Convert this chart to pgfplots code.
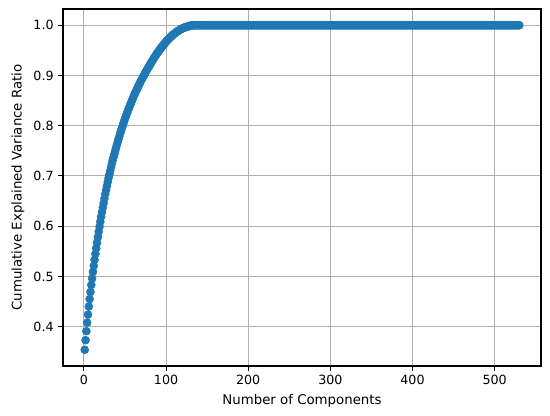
\documentclass[border=0pt]{standalone}
\usepackage{pgfplots}
\pgfplotsset{compat=1.18}
\usepackage{fontspec}
\setmainfont{DejaVu Sans}
\definecolor{mplblue}{HTML}{1F77B4}
\definecolor{mplgrid}{HTML}{B0B0B0}
\begin{document}
\begin{tikzpicture}
\begin{axis}[
  scale only axis, width=358.5pt, height=267.75pt,
  xmin=-25.45, xmax=556.45, ymin=0.3217, ymax=1.0323,
  xtick={0,100,200,300,400,500},
  ytick={0.4,0.5,0.6,0.7,0.8,0.9,1.0},
  yticklabel style={/pgf/number format/fixed, /pgf/number format/precision=1, /pgf/number format/fixed zerofill},
  /pgf/number format/assume math mode=true,
  tick label style={font=\fontsize{9.5}{11}\selectfont},
  label style={font=\fontsize{10}{12}\selectfont},
  xlabel={Number of Components},
  ylabel={Cumulative Explained Variance Ratio},
  grid=major, major grid style={mplgrid, line width=0.8pt},
  axis line style={line width=0.8pt},
  tick align=outside, xtick pos=left, ytick pos=left,
  major tick length=3.5pt, every tick/.style={black, line width=0.8pt},
  axis on top=false]
\addplot[only marks, mark=*, mark size=3pt, mark options={draw=mplblue, fill=mplblue}] coordinates {
(1,0.354)(2,0.373)(3,0.391)(4,0.408)(5,0.424)(6,0.440)(7,0.455)(8,0.469)(9,0.483)
(10,0.496)(11,0.509)(12,0.521)(13,0.533)(14,0.545)(15,0.556)(16,0.567)(17,0.578)(18,0.589)(19,0.599)
(20,0.609)(21,0.619)(22,0.628)(23,0.637)(24,0.646)(25,0.655)(26,0.664)(27,0.672)(28,0.680)(29,0.688)
(30,0.696)(31,0.703)(32,0.710)(33,0.717)(34,0.724)(35,0.731)(36,0.737)(37,0.743)(38,0.749)(39,0.755)
(40,0.761)(41,0.767)(42,0.773)(43,0.778)(44,0.784)(45,0.789)(46,0.794)(47,0.799)(48,0.804)(49,0.809)
(50,0.814)(51,0.818)(52,0.823)(53,0.827)(54,0.832)(55,0.836)(56,0.840)(57,0.844)(58,0.848)(59,0.852)
(60,0.856)(61,0.860)(62,0.864)(63,0.867)(64,0.871)(65,0.874)(66,0.878)(67,0.881)(68,0.884)(69,0.888)
(70,0.891)(71,0.894)(72,0.897)(73,0.900)(74,0.903)(75,0.906)(76,0.909)(77,0.912)(78,0.915)(79,0.917)
(80,0.920)(81,0.923)(82,0.926)(83,0.928)(84,0.931)(85,0.934)(86,0.936)(87,0.939)(88,0.941)(89,0.944)
(90,0.946)(91,0.948)(92,0.951)(93,0.953)(94,0.955)(95,0.957)(96,0.959)(97,0.961)(98,0.963)(99,0.965)
(100,0.967)(101,0.969)(102,0.971)(103,0.972)(104,0.974)(105,0.976)(106,0.977)(107,0.979)(108,0.980)(109,0.982)
(110,0.983)(111,0.984)(112,0.986)(113,0.987)(114,0.988)(115,0.989)(116,0.990)(117,0.991)(118,0.992)(119,0.993)
(120,0.994)(121,0.994)(122,0.995)(123,0.996)(124,0.996)(125,0.997)(126,0.997)(127,0.998)(128,0.998)(129,0.999)
(130,0.999)(131,0.9995)(132,0.9998)(133,1)(134,1)(135,1)(136,1)(137,1)(138,1)(139,1)
(140,1)(141,1)(142,1)(143,1)(144,1)(145,1)(146,1)(147,1)(148,1)(149,1)
(150,1)(151,1)(152,1)(153,1)(154,1)(155,1)(156,1)(157,1)(158,1)(159,1)
(160,1)(161,1)(162,1)(163,1)(164,1)(165,1)(166,1)(167,1)(168,1)(169,1)
(170,1)(171,1)(172,1)(173,1)(174,1)(175,1)(176,1)(177,1)(178,1)(179,1)
(180,1)(181,1)(182,1)(183,1)(184,1)(185,1)(186,1)(187,1)(188,1)(189,1)
(190,1)(191,1)(192,1)(193,1)(194,1)(195,1)(196,1)(197,1)(198,1)(199,1)
(200,1)(201,1)(202,1)(203,1)(204,1)(205,1)(206,1)(207,1)(208,1)(209,1)
(210,1)(211,1)(212,1)(213,1)(214,1)(215,1)(216,1)(217,1)(218,1)(219,1)
(220,1)(221,1)(222,1)(223,1)(224,1)(225,1)(226,1)(227,1)(228,1)(229,1)
(230,1)(231,1)(232,1)(233,1)(234,1)(235,1)(236,1)(237,1)(238,1)(239,1)
(240,1)(241,1)(242,1)(243,1)(244,1)(245,1)(246,1)(247,1)(248,1)(249,1)
(250,1)(251,1)(252,1)(253,1)(254,1)(255,1)(256,1)(257,1)(258,1)(259,1)
(260,1)(261,1)(262,1)(263,1)(264,1)(265,1)(266,1)(267,1)(268,1)(269,1)
(270,1)(271,1)(272,1)(273,1)(274,1)(275,1)(276,1)(277,1)(278,1)(279,1)
(280,1)(281,1)(282,1)(283,1)(284,1)(285,1)(286,1)(287,1)(288,1)(289,1)
(290,1)(291,1)(292,1)(293,1)(294,1)(295,1)(296,1)(297,1)(298,1)(299,1)
(300,1)(301,1)(302,1)(303,1)(304,1)(305,1)(306,1)(307,1)(308,1)(309,1)
(310,1)(311,1)(312,1)(313,1)(314,1)(315,1)(316,1)(317,1)(318,1)(319,1)
(320,1)(321,1)(322,1)(323,1)(324,1)(325,1)(326,1)(327,1)(328,1)(329,1)
(330,1)(331,1)(332,1)(333,1)(334,1)(335,1)(336,1)(337,1)(338,1)(339,1)
(340,1)(341,1)(342,1)(343,1)(344,1)(345,1)(346,1)(347,1)(348,1)(349,1)
(350,1)(351,1)(352,1)(353,1)(354,1)(355,1)(356,1)(357,1)(358,1)(359,1)
(360,1)(361,1)(362,1)(363,1)(364,1)(365,1)(366,1)(367,1)(368,1)(369,1)
(370,1)(371,1)(372,1)(373,1)(374,1)(375,1)(376,1)(377,1)(378,1)(379,1)
(380,1)(381,1)(382,1)(383,1)(384,1)(385,1)(386,1)(387,1)(388,1)(389,1)
(390,1)(391,1)(392,1)(393,1)(394,1)(395,1)(396,1)(397,1)(398,1)(399,1)
(400,1)(401,1)(402,1)(403,1)(404,1)(405,1)(406,1)(407,1)(408,1)(409,1)
(410,1)(411,1)(412,1)(413,1)(414,1)(415,1)(416,1)(417,1)(418,1)(419,1)
(420,1)(421,1)(422,1)(423,1)(424,1)(425,1)(426,1)(427,1)(428,1)(429,1)
(430,1)(431,1)(432,1)(433,1)(434,1)(435,1)(436,1)(437,1)(438,1)(439,1)
(440,1)(441,1)(442,1)(443,1)(444,1)(445,1)(446,1)(447,1)(448,1)(449,1)
(450,1)(451,1)(452,1)(453,1)(454,1)(455,1)(456,1)(457,1)(458,1)(459,1)
(460,1)(461,1)(462,1)(463,1)(464,1)(465,1)(466,1)(467,1)(468,1)(469,1)
(470,1)(471,1)(472,1)(473,1)(474,1)(475,1)(476,1)(477,1)(478,1)(479,1)
(480,1)(481,1)(482,1)(483,1)(484,1)(485,1)(486,1)(487,1)(488,1)(489,1)
(490,1)(491,1)(492,1)(493,1)(494,1)(495,1)(496,1)(497,1)(498,1)(499,1)
(500,1)(501,1)(502,1)(503,1)(504,1)(505,1)(506,1)(507,1)(508,1)(509,1)
(510,1)(511,1)(512,1)(513,1)(514,1)(515,1)(516,1)(517,1)(518,1)(519,1)
(520,1)(521,1)(522,1)(523,1)(524,1)(525,1)(526,1)(527,1)(528,1)(529,1)
(530,1)
};
\end{axis}
\pgfresetboundingbox
\path ([shift={(-47.25pt,-37.5pt)}]current axis.south west) rectangle ([shift={(6.75pt,6.75pt)}]current axis.north east);
\end{tikzpicture}
\end{document}
